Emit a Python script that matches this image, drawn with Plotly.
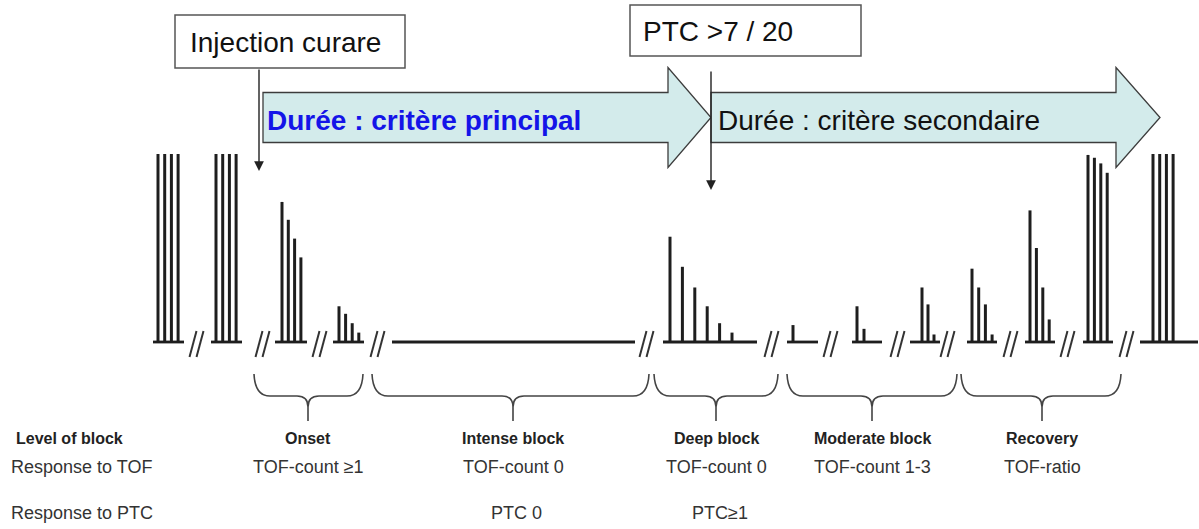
import plotly.graph_objects as go

# ---------------- data (twitch heights, % of control) ----------------
control_1 = [100, 100, 100, 100]
control_2 = [100, 100, 100, 100]
onset_1 = [74.5, 65, 55, 45]
onset_2 = [19, 15, 10, 5]
intense_block = []
deep_block_ptc = [56, 40, 29, 19, 10, 5]
moderate_1 = [9]
moderate_2 = [19, 7]
moderate_3 = [29, 20, 4]
recovery_1 = [39, 29, 20, 4]
recovery_2 = [70, 50, 29, 12]
recovery_3 = [99.5, 98, 95, 90]
recovery_4 = [100, 100, 100, 100]

phase_names = ["Onset", "Intense block", "Deep block", "Moderate block", "Recovery"]
tof_responses = ["TOF-count \u22651", "TOF-count 0", "TOF-count 0", "TOF-count 1-3", "TOF-ratio"]
ptc_responses = ["", "PTC 0", "PTC\u22651", "", ""]
row_labels = ["Level of block", "Response to TOF", "Response to PTC"]
event_labels = ["Injection curare", "PTC >7 / 20"]
duration_labels = ["Dur\u00e9e : crit\u00e8re principal", "Dur\u00e9e : crit\u00e8re secondaire"]

# ---------------- layout (pixel geometry) ----------------
W, H = 1199, 529
BASE_PX = 342.0          # pixel row of the zero line
PX_PER_UNIT = 1.88       # pixels per % of twitch height
FONT = "Liberation Sans, Arial, sans-serif"
INK = "#1e1e1e"
GREY = "#444444"

# (values, first bar x, bar step, baseline start, baseline end)
groups = [
    (control_1, 158, 6.7, 153, 184),
    (control_2, 216, 6.7, 211, 242),
    (onset_1, 282, 6.3, 275, 307),
    (onset_2, 339, 6.6, 333, 364),
    (intense_block, 0, 0, 392, 635),
    (deep_block_ptc, 670, 12.4, 663, 757),
    (moderate_1, 793, 6.5, 787, 818),
    (moderate_2, 857, 7.0, 852, 882),
    (moderate_3, 922, 6.0, 910, 940),
    (recovery_1, 972, 6.7, 967, 997),
    (recovery_2, 1030, 6.4, 1025, 1055),
    (recovery_3, 1088, 6.4, 1083, 1113),
    (recovery_4, 1153, 6.7, 1140, 1198),
]
break_x = [197, 263, 320, 378, 647, 772, 831, 898, 948, 1011, 1068, 1127]
brace_spans = [(254, 363, 308), (372, 649, 513), (654, 778, 716), (787, 957, 872), (961, 1121, 1042)]
ptc_x = [None, 516, 720, None, None]

fig = go.Figure()

# bars
bx, by = [], []
lx, ly = [], []
for vals, x0, step, b0, b1 in groups:
    for i, v in enumerate(vals):
        x = x0 + i * step
        bx += [x, x, None]
        by += [0, v, None]
    lx += [b0, b1, None]
    ly += [0, 0, None]

fig.add_trace(go.Scatter(x=bx, y=by, mode="lines", yaxis="y2",
                         line=dict(color=INK, width=3), hoverinfo="skip", showlegend=False))
fig.add_trace(go.Scatter(x=lx, y=ly, mode="lines", yaxis="y2",
                         line=dict(color=INK, width=2.8), hoverinfo="skip", showlegend=False))

# break marks "//"
kx, ky = [], []
for xb in break_x:
    for off in (-4, 3):
        kx += [xb + off - 3.5, xb + off + 3.5, None]
        ky += [357, 331, None]
fig.add_trace(go.Scatter(x=kx, y=ky, mode="lines", line=dict(color="#333333", width=2),
                         hoverinfo="skip", showlegend=False))

shapes = []
# big arrows
def arrow_path(x0, x1, xt, yc):
    return (f"M {x0},{yc-25} L {x1},{yc-25} L {x1},{yc-50} L {xt},{yc} "
            f"L {x1},{yc+50} L {x1},{yc+25} L {x0},{yc+25} Z")

ARROW_FILL = "#d3ebeb"
shapes.append(dict(type="path", path=arrow_path(263, 668, 711, 117.5), xref="x", yref="y",
                   fillcolor=ARROW_FILL, line=dict(color="#3c3c3c", width=1.3), layer="below"))
shapes.append(dict(type="path", path=arrow_path(711, 1116, 1160, 117.5), xref="x", yref="y",
                   fillcolor=ARROW_FILL, line=dict(color="#3c3c3c", width=1.3), layer="below"))

# event boxes
shapes.append(dict(type="rect", x0=175, x1=405, y0=15, y1=68, xref="x", yref="y",
                   fillcolor="white", line=dict(color="#555555", width=1.5)))
shapes.append(dict(type="rect", x0=630, x1=861, y0=5, y1=56, xref="x", yref="y",
                   fillcolor="white", line=dict(color="#555555", width=1.5)))

# braces
for x1, x2, xm in brace_spans:
    yt, ym, yb = 374, 396, 421
    p = (f"M {x1},{yt} Q {x1+1},{ym} {x1+16},{ym} L {xm-11},{ym} Q {xm},{ym} {xm},{ym+11} L {xm},{yb} "
         f"M {xm},{ym+11} Q {xm},{ym} {xm+11},{ym} L {x2-16},{ym} Q {x2-1},{ym} {x2},{yt}")
    shapes.append(dict(type="path", path=p, xref="x", yref="y",
                       line=dict(color=GREY, width=1.6)))

annotations = []
# event labels
annotations.append(dict(x=188, y=42, xref="x", yref="y", text=event_labels[0], showarrow=False,
                        xanchor="left", yanchor="middle", font=dict(family=FONT, size=28, color="#111")))
annotations.append(dict(x=641, y=31, xref="x", yref="y", text=event_labels[1], showarrow=False,
                        xanchor="left", yanchor="middle", font=dict(family=FONT, size=28, color="#111")))
# vertical arrows
annotations.append(dict(x=259, y=171, ax=259, ay=68, xref="x", yref="y", axref="x", ayref="y",
                        text="", showarrow=True, arrowhead=2, arrowsize=1.4, arrowwidth=1.4,
                        arrowcolor="#222"))
annotations.append(dict(x=711, y=190, ax=711, ay=70, xref="x", yref="y", axref="x", ayref="y",
                        text="", showarrow=True, arrowhead=2, arrowsize=1.4, arrowwidth=1.4,
                        arrowcolor="#222"))
# durations
annotations.append(dict(x=265, y=120, xref="x", yref="y", text="<b>" + duration_labels[0] + "</b>",
                        showarrow=False, xanchor="left", yanchor="middle",
                        font=dict(family=FONT, size=28, color="#1414e8")))
annotations.append(dict(x=716, y=120, xref="x", yref="y", text=duration_labels[1],
                        showarrow=False, xanchor="left", yanchor="middle",
                        font=dict(family=FONT, size=28, color="#111")))

# row labels
annotations.append(dict(x=14, y=438, xref="x", yref="y", text="<b>" + row_labels[0] + "</b>",
                        showarrow=False, xanchor="left", yanchor="middle",
                        font=dict(family=FONT, size=16, color="#222")))
annotations.append(dict(x=9, y=467, xref="x", yref="y", text=row_labels[1],
                        showarrow=False, xanchor="left", yanchor="middle",
                        font=dict(family=FONT, size=18, color="#333")))
annotations.append(dict(x=9, y=513, xref="x", yref="y", text=row_labels[2],
                        showarrow=False, xanchor="left", yanchor="middle",
                        font=dict(family=FONT, size=18, color="#333")))

for i, (name, tof, ptc) in enumerate(zip(phase_names, tof_responses, ptc_responses)):
    xm = brace_spans[i][2]
    annotations.append(dict(x=xm, y=438, xref="x", yref="y", text="<b>" + name + "</b>",
                            showarrow=False, xanchor="center", yanchor="middle",
                            font=dict(family=FONT, size=16, color="#222")))
    annotations.append(dict(x=xm, y=467, xref="x", yref="y", text=tof,
                            showarrow=False, xanchor="center", yanchor="middle",
                            font=dict(family=FONT, size=18, color="#333")))
    if ptc:
        annotations.append(dict(x=ptc_x[i], y=513, xref="x", yref="y", text=ptc,
                                showarrow=False, xanchor="center", yanchor="middle",
                                font=dict(family=FONT, size=18, color="#333")))

y2_range = [(BASE_PX - H) / PX_PER_UNIT, BASE_PX / PX_PER_UNIT]

fig.update_layout(
    width=W, height=H,
    margin=dict(l=0, r=0, t=0, b=0),
    paper_bgcolor="white", plot_bgcolor="white",
    xaxis=dict(range=[0, W], visible=False, showgrid=False, zeroline=False, fixedrange=True),
    yaxis=dict(range=[H, 0], visible=False, showgrid=False, zeroline=False, fixedrange=True),
    yaxis2=dict(range=y2_range, overlaying="y", visible=False, showgrid=False, zeroline=False,
                fixedrange=True),
    shapes=shapes,
    annotations=annotations,
    showlegend=False,
)

fig.write_html("out.html", config={"displayModeBar": False},
               post_script="document.body.style.margin='0px';document.body.style.overflow='hidden';")
